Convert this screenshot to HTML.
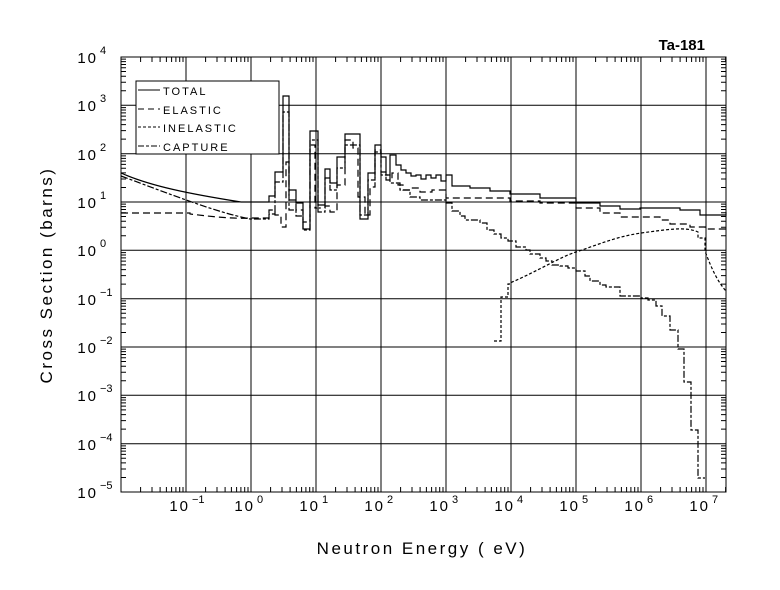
<!DOCTYPE html>
<html><head><meta charset="utf-8"><style>
html,body{margin:0;padding:0;background:#fff;}
svg{display:block;}
text{font-family:"Liberation Sans",sans-serif;fill:#000;}
</style></head><body>
<svg width="780" height="590" viewBox="0 0 780 590" xmlns="http://www.w3.org/2000/svg">
<defs>
<clipPath id="cp"><rect x="121" y="57" width="605" height="435"/></clipPath>
<path id="xt" d="M19.6,57v5M31,57v5M39.1,57v5M45.4,57v5M50.6,57v5M54.9,57v5M58.7,57v5M62,57v5M19.6,492v-5M31,492v-5M39.1,492v-5M45.4,492v-5M50.6,492v-5M54.9,492v-5M58.7,492v-5M62,492v-5"/>
<path id="yt" d="M121,-14.55h5M121,-23.06h5M121,-29.1h5M121,-33.78h5M121,-37.6h5M121,-40.85h5M121,-43.65h5M121,-46.12h5M726,-14.55h-5M726,-23.06h-5M726,-29.1h-5M726,-33.78h-5M726,-37.6h-5M726,-40.85h-5M726,-43.65h-5M726,-46.12h-5"/>
</defs>
<g stroke="#000" stroke-width="1" fill="none">
<rect x="121" y="57" width="605" height="435"/>
<path d="M186,57V492M251,57V492M316,57V492M381,57V492M446,57V492M511,57V492M576,57V492M641,57V492M706,57V492"/>
<path d="M121,105.3H726M121,153.7H726M121,202H726M121,250.3H726M121,298.7H726M121,347H726M121,395.3H726M121,443.7H726"/>
<g clip-path="url(#cp)">
<use href="#xt" transform="translate(121,0)"/><use href="#xt" transform="translate(186,0)"/><use href="#xt" transform="translate(251,0)"/><use href="#xt" transform="translate(316,0)"/><use href="#xt" transform="translate(381,0)"/><use href="#xt" transform="translate(446,0)"/><use href="#xt" transform="translate(511,0)"/><use href="#xt" transform="translate(576,0)"/><use href="#xt" transform="translate(641,0)"/><use href="#xt" transform="translate(706,0)"/>
</g>
<use href="#yt" transform="translate(0,105.3)"/><use href="#yt" transform="translate(0,153.7)"/><use href="#yt" transform="translate(0,202)"/><use href="#yt" transform="translate(0,250.3)"/><use href="#yt" transform="translate(0,298.7)"/><use href="#yt" transform="translate(0,347)"/><use href="#yt" transform="translate(0,395.3)"/><use href="#yt" transform="translate(0,443.7)"/><use href="#yt" transform="translate(0,492)"/>
</g>
<text x="705" y="50" font-size="15" font-weight="bold" text-anchor="end">Ta-181</text>
<g font-size="15" letter-spacing="2" text-anchor="end">
<text x="98" y="63">10</text><text x="98" y="111">10</text><text x="98" y="160">10</text><text x="98" y="208">10</text><text x="98" y="256">10</text><text x="98" y="305">10</text><text x="98" y="353">10</text><text x="98" y="401">10</text><text x="98" y="450">10</text><text x="98" y="498">10</text>
<text x="190" y="511">10</text><text x="255" y="511">10</text><text x="320" y="511">10</text><text x="385" y="511">10</text><text x="450" y="511">10</text><text x="515" y="511">10</text><text x="580" y="511">10</text><text x="645" y="511">10</text><text x="710" y="511">10</text>
</g>
<g font-size="11">
<text x="100" y="54">4</text><text x="100" y="102">3</text><text x="100" y="151">2</text><text x="100" y="199">1</text><text x="100" y="247">0</text><text x="100" y="296">−1</text><text x="100" y="344">−2</text><text x="100" y="392">−3</text><text x="100" y="441">−4</text><text x="100" y="489">−5</text>
<text x="192" y="503">−1</text><text x="257" y="503">0</text><text x="322" y="503">1</text><text x="387" y="503">2</text><text x="452" y="503">3</text><text x="517" y="503">4</text><text x="582" y="503">5</text><text x="647" y="503">6</text><text x="712" y="503">7</text>
</g>
<text transform="translate(52,275) rotate(-90)" font-size="17" text-anchor="middle" letter-spacing="2.5">Cross Section (barns)</text>
<text x="422" y="554" font-size="17" text-anchor="middle" letter-spacing="2.5">Neutron Energy ( eV)</text>
<rect x="136" y="81" width="143" height="73" fill="#fff" stroke="#000"/>
<g stroke="#000" stroke-width="1" fill="none">
<line x1="138" y1="90" x2="160" y2="90"/>
<line x1="138" y1="109" x2="160" y2="109" stroke-dasharray="6,4"/>
<line x1="138" y1="127" x2="160" y2="127" stroke-dasharray="3,2"/>
<line x1="138" y1="146" x2="160" y2="146" stroke-dasharray="6,2,3,2"/>
</g>
<g font-size="11" letter-spacing="2">
<text x="163" y="95">TOTAL</text>
<text x="163" y="114">ELASTIC</text>
<text x="163" y="132">INELASTIC</text>
<text x="163" y="151">CAPTURE</text>
</g>
<g fill="none" stroke="#000" stroke-width="1.2">
<path d="M121,173 C150,186 190,194 241,202 H269 V196 H275 V172 H283 V96 H289 V190 H296 V203 H303 V229 H310 V131 H318 V205 H325 V169 H330 V183 H337 V157 H345 V134 H360 V219 H368 V173 H375 V145 H381 V157 H386 V175 H390 V155 H396 V165 H401 V170 H406 V173 H411 V176 H416 V175 H421 V179 H426 V175 H431 V178 H436 V175 H441 V181 H446 V175 H452 V186 H470 V188 H490 V191 H510 V194 H540 V198 H576 V203 H600 V206 H620 V209 H640 V208 H660 V208 H680 V210 H700 V215 H705 V215 H726 V212"/>
<path stroke-dasharray="7,4" d="M121,213 H190 V214 C215,217 235,219 250,218 H269 V210 H275 V215 H281 V227 H286 V162 H289 V200 H296 V210 H303 V222 H310 V145 H315 V208 H325 V206 H330 V212 H337 V185 H345 V140 H353 V148 H358 V197 H365 V215 H370 V187 H375 V150 H381 V172 H386 V180 H392 V173 H398 V185 H403 V190 H410 V188 H420 V192 H432 V190 H446 V198 H470 V198 H510 V201 H540 V203 H576 V208 H600 V213 H620 V217 H660 V220 H670 V224 H690 V227 H705 V229 H726 V226"/>
<path stroke-dasharray="7,2,3,2" d="M121,176 C170,194 215,212 250,219 H269 V214 H275 V182 H283 V112 H289 V210 H296 V216 H303 V230 H310 V140 H318 V212 H325 V178 H330 V190 H337 V168 H345 V145 H360 V215 H368 V180 H375 V152 H381 V175 H390 V183 H400 V190 H410 V197 H420 V200 H446 V203 H452 V211 H460 V216 H465 V220 H480 V223 H487 V230 H494 V234 H501 V238 H508 V241 H516 V247 H526 V250 H530 V254 H540 V258 H546 V261 H552 V265 H560 V266 H568 V268 H576 V271 H585 V276 H590 V281 H600 V285 H606 V287 H620 V296 H641 V298 H648 V300 H656 V306 H662 V316 H670 V330 H678 V349 H684 V382 H691 V430 H698 V478 H705"/>
<path stroke-dasharray="3,2" d="M494,341 H501 V297 H508 V284 H510 V283 C540,270 560,257 576,252 C600,244 615,237 641,233 C665,230 685,226 698,232 V238 H705 V251 C712,270 718,282 726,291"/>
</g>
</svg>
</body></html>
